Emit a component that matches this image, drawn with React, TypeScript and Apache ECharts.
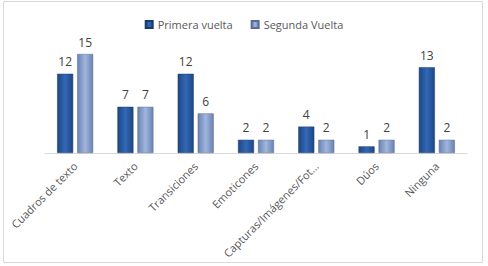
import React, { useEffect, useRef } from "react";
import * as echarts from "echarts";

const categories = [
  "Cuadros de texto",
  "Texto",
  "Transiciones",
  "Emoticones",
  "Capturas/Imágenes/Fot...",
  "Dúos",
  "Ninguna",
];
const primeraVuelta = [12, 7, 12, 2, 4, 1, 13];
const segundaVuelta = [15, 7, 6, 2, 2, 2, 2];
const seriesNames = ["Primera vuelta", "Segunda Vuelta"];

const FONT = "'Open Sans', 'Noto Sans', sans-serif";

function grad(edge: string, mid: string) {
  return new echarts.graphic.LinearGradient(0, 0, 1, 0, [
    { offset: 0, color: edge },
    { offset: 0.5, color: mid },
    { offset: 1, color: edge },
  ]);
}

export default function App() {
  const ref = useRef<HTMLDivElement>(null);
  useEffect(() => {
    if (!ref.current) return;
    const chart = echarts.init(ref.current, null, { renderer: "svg" });
    chart.setOption({
      animation: false,
      backgroundColor: "#ffffff",
      graphic: [
        {
          type: "rect",
          shape: { x: 3.5, y: 1.5, width: 479, height: 261 },
          style: { fill: "none", stroke: "#D9D9D9", lineWidth: 1 },
          silent: true,
        },
      ],
      legend: {
        top: 14,
        left: "center",
        itemWidth: 7,
        itemHeight: 7,
        itemGap: 18,
        icon: "rect",
        textStyle: { color: "#595959", fontSize: 11, fontFamily: FONT },
        data: seriesNames,
      },
      grid: { left: 45, right: 21, top: 54, bottom: 113, containLabel: false },
      xAxis: {
        type: "category",
        data: categories,
        axisLine: { lineStyle: { color: "#D9D9D9" } },
        axisTick: { show: false },
        axisLabel: {
          rotate: 45,
          interval: 0,
          color: "#595959",
          fontSize: 11,
          fontFamily: FONT,
          margin: 11,
        },
      },
      yAxis: {
        type: "value",
        min: 0,
        max: 15,
        show: false,
        splitLine: { show: false },
      },
      series: [
        {
          name: seriesNames[0],
          type: "bar",
          data: primeraVuelta,
          barWidth: 16,
          barGap: "25%",
          itemStyle: {
            color: grad("#1D4783", "#3268B6"),
            borderColor: "#1A3B6D",
            borderWidth: 0.5,
          },
          label: {
            show: true,
            position: "top",
            distance: 6,
            color: "#404040",
            fontSize: 12,
            fontFamily: FONT,
          },
        },
        {
          name: seriesNames[1],
          type: "bar",
          data: segundaVuelta,
          barWidth: 16,
          itemStyle: {
            color: grad("#6A82B0", "#A0B6DF"),
            borderColor: "#5A6E95",
            borderWidth: 0.5,
          },
          label: {
            show: true,
            position: "top",
            distance: 6,
            color: "#404040",
            fontSize: 12,
            fontFamily: FONT,
          },
        },
      ],
    });
    return () => chart.dispose();
  }, []);
  return (
    <div
      ref={ref}
      style={{ position: "absolute", left: 0, top: 0, width: 488, height: 266 }}
    />
  );
}
